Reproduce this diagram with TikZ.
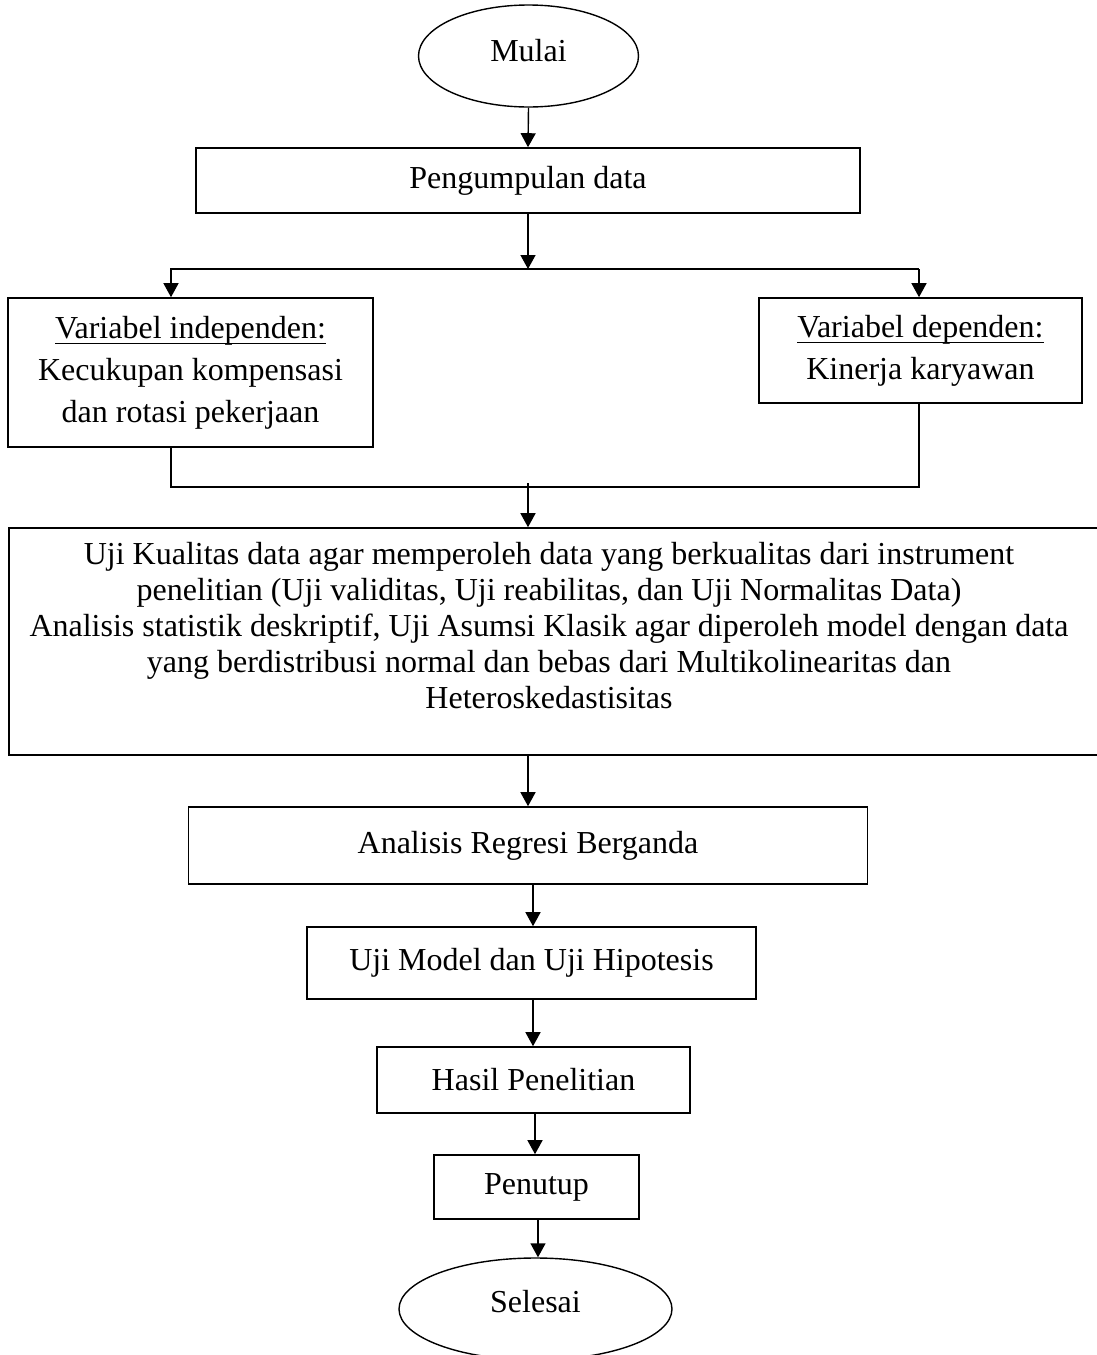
\documentclass[tikz,border=0pt]{standalone}
\usepackage{fontspec}
\setmainfont{Liberation Serif}
\newcommand\myul[1]{\setbox0\hbox{#1}\rlap{\rule[-6pt]{\wd0}{1.6pt}}\box0}
\usetikzlibrary{arrows.meta,shapes.geometric}
\begin{document}
\begin{tikzpicture}[x=1pt,y=-1pt,
  box/.style={draw, line width=1.6pt, rectangle, inner sep=0pt, align=center,
    font=\fontsize{32}{42}\selectfont},
  term/.style={draw, line width=1.4pt, ellipse, inner sep=0pt,
    font=\fontsize{32}{42}\selectfont},
  txt/.style={inner sep=0pt, align=center, font=\fontsize{32}{36.2}\selectfont},
  conn/.style={line width=1.4pt, line cap=rect},
  arr/.style={line width=1.4pt, -{Triangle[width=15pt,length=14pt]}}]
\useasboundingbox (0,0) rectangle (1097,1355);

% nodes
\node[term, minimum width=220pt, minimum height=102pt] (mulai) at (528.5,56) {\raisebox{12pt}{Mulai}};
\node[box, minimum width=664pt, minimum height=65pt] (peng) at (528,180.5) {Pengumpulan data};
\node[box, minimum width=365pt, minimum height=149pt] (indep) at (190.5,372.5)
  {\myul{Variabel independen:}\\Kecukupan kompensasi\\dan rotasi pekerjaan};
\node[box, minimum width=323pt, minimum height=105pt] (dep) at (920.5,350.5)
  {\myul{Variabel dependen:}\\Kinerja karyawan};
\node[box, minimum width=1093pt, minimum height=227pt] (big) at (555.5,641.5) {};
\node[txt] (bigtxt) at (549,625.5)
  {Uji Kualitas data agar memperoleh data yang berkualitas dari instrument\\
   penelitian (Uji validitas, Uji reabilitas, dan Uji Normalitas Data)\\
   Analisis statistik deskriptif, Uji Asumsi Klasik agar diperoleh model dengan data\\
   yang berdistribusi normal dan bebas dari Multikolinearitas dan\\
   Heteroskedastisitas};
\node[box, minimum width=679pt, minimum height=77pt] (anal) at (528,845.5) {\raisebox{6pt}{Analisis Regresi Berganda}};
\node[box, minimum width=449pt, minimum height=72pt] (ujim) at (531.5,963) {\raisebox{8pt}{Uji Model dan Uji Hipotesis}};
\node[box, minimum width=313pt, minimum height=66pt] (hasil) at (533.5,1080) {Hasil Penelitian};
\node[box, minimum width=205pt, minimum height=64pt] (tutup) at (536.5,1187) {Penutup};
\node[term, minimum width=273pt, minimum height=102pt] (selesai) at (535.5,1309) {\raisebox{16pt}{Selesai}};

% helper coordinates
\coordinate (j1) at (528,269);
\coordinate (jl) at (171,269);
\coordinate (jr) at (919,269);
\coordinate (bl) at (171,487);
\coordinate (br) at (919,487);
\coordinate (j2) at (528,483);
\coordinate (c3) at (533,0);
\coordinate (c4) at (535,0);
\coordinate (c5) at (538,0);

% connectors
\draw[arr] (mulai.south) -- (peng.north);
\draw[arr] (peng.south) -- (j1);
\draw[arr] (jr) -- (jl) -- (jl |- indep.north);
\draw[arr] (jr) -- (jr |- dep.north);
\draw[conn] (bl |- indep.south) -- (bl) -- (br) -- (br |- dep.south);
\draw[arr] (j2) -- (j2 |- big.north);
\draw[arr] (j2 |- big.south) -- (j2 |- anal.north);
\draw[arr] (c3 |- anal.south) -- (c3 |- ujim.north);
\draw[arr] (c3 |- ujim.south) -- (c3 |- hasil.north);
\draw[arr] (c4 |- hasil.south) -- (c4 |- tutup.north);
\draw[arr] (c5 |- tutup.south) -- (c5 |- selesai.north);
\end{tikzpicture}
\end{document}
